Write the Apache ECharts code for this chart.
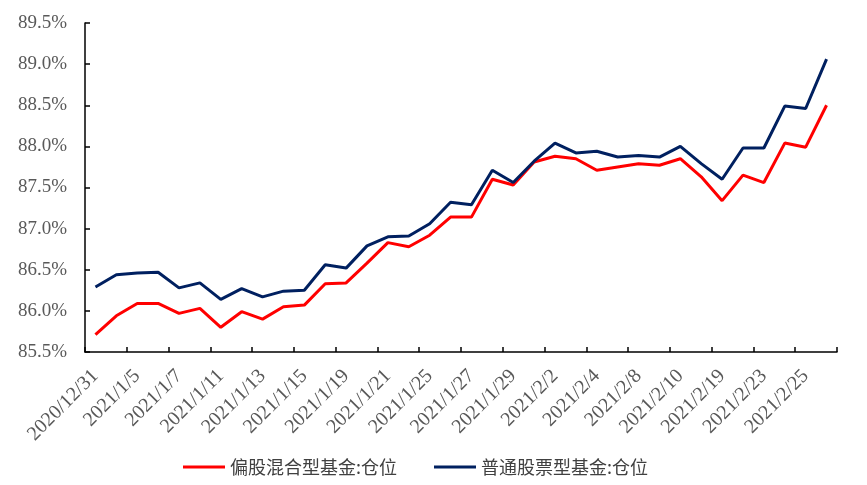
<!DOCTYPE html>
<html>
<head>
<meta charset="utf-8">
<script src="https://cdn.jsdelivr.net/npm/echarts@6/dist/echarts.min.js"></script>
<style>html,body{margin:0;padding:0;background:#fff;}#c{width:867px;height:485px;}</style>
</head>
<body>
<div id="c"></div>
<script>
const categories = ["2020/12/31","2021/1/4","2021/1/5","2021/1/6","2021/1/7","2021/1/8","2021/1/11","2021/1/12","2021/1/13","2021/1/14","2021/1/15","2021/1/18","2021/1/19","2021/1/20","2021/1/21","2021/1/22","2021/1/25","2021/1/26","2021/1/27","2021/1/28","2021/1/29","2021/2/1","2021/2/2","2021/2/3","2021/2/4","2021/2/5","2021/2/8","2021/2/9","2021/2/10","2021/2/18","2021/2/19","2021/2/22","2021/2/23","2021/2/24","2021/2/25","2021/2/26"];
const mixedEquity = [85.71,85.94,86.09,86.09,85.97,86.03,85.80,85.99,85.90,86.05,86.07,86.33,86.34,86.58,86.83,86.78,86.92,87.14,87.14,87.60,87.53,87.81,87.88,87.85,87.71,87.75,87.79,87.77,87.85,87.63,87.34,87.65,87.56,88.04,87.99,88.50];
const commonStock = [86.29,86.44,86.46,86.47,86.28,86.34,86.14,86.27,86.17,86.24,86.25,86.56,86.52,86.79,86.90,86.91,87.06,87.32,87.29,87.71,87.56,87.82,88.04,87.92,87.94,87.87,87.89,87.87,88.00,87.79,87.60,87.98,87.98,88.49,88.46,89.06];
const seriesNames = ["偏股混合型基金:仓位","普通股票型基金:仓位"];

const chart = echarts.init(document.getElementById('c'), null, {renderer:'canvas'});
chart.setOption({
  animation:false,
  backgroundColor:'#fff',
  grid:{left:85,right:30,top:23,bottom:133,containLabel:false},
  legend:{
    left:178, top:453,
    itemWidth:42, itemHeight:3, itemGap:37, icon:'rect',
    textStyle:{fontFamily:'Noto Sans CJK SC',fontSize:18,color:'#404040'},
    data:seriesNames
  },
  xAxis:{
    type:'category', data:categories, boundaryGap:true,
    axisLine:{lineStyle:{color:'#000',width:1.5}},
    axisTick:{show:true,interval:1,length:5,inside:true,lineStyle:{color:'#000',width:1.5}},
    axisLabel:{interval:1,rotate:45,margin:21,fontFamily:'Liberation Serif',fontSize:20,color:'#595959'},
    splitLine:{show:false}
  },
  yAxis:{
    type:'value', min:85.5, max:89.5, interval:0.5,
    axisLine:{show:true,lineStyle:{color:'#000',width:1.5}},
    axisTick:{show:true,inside:true,length:5,lineStyle:{color:'#000',width:1.5}},
    axisLabel:{margin:18,fontFamily:'Liberation Serif',fontSize:19,color:'#595959',formatter:v=>v.toFixed(1)+'%'},
    splitLine:{show:false}
  },
  series:[
    {name:seriesNames[0],type:'line',data:mixedEquity,symbol:'none',lineStyle:{color:'#FF0000',width:3},itemStyle:{color:'#FF0000'}},
    {name:seriesNames[1],type:'line',data:commonStock,symbol:'none',lineStyle:{color:'#002060',width:3},itemStyle:{color:'#002060'}}
  ]
});
</script>
</body>
</html>
